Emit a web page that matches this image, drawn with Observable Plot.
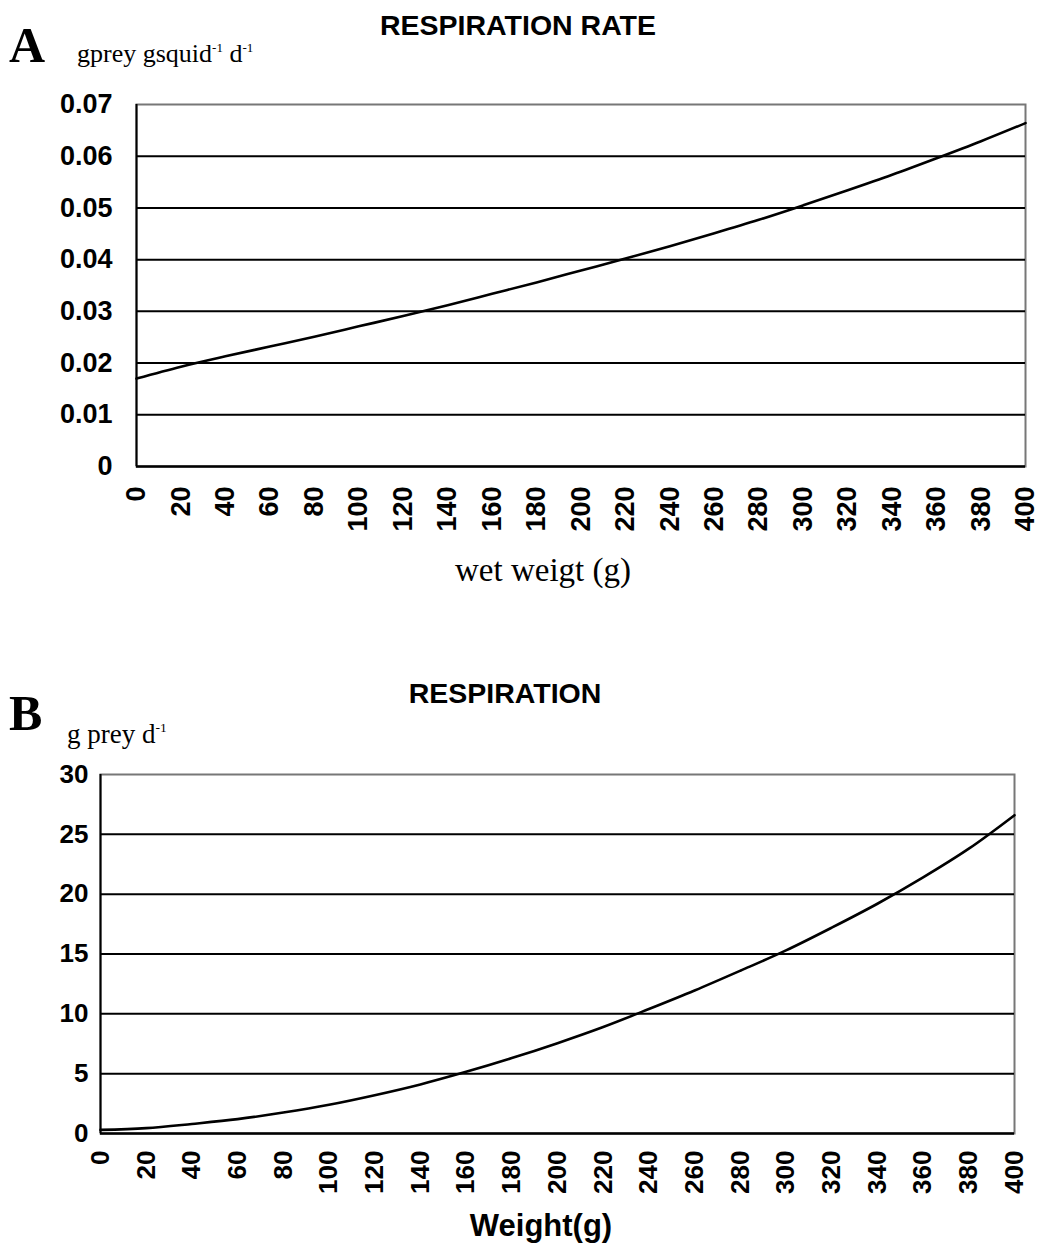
<!DOCTYPE html>
<html>
<head>
<meta charset="utf-8">
<script src="https://cdn.jsdelivr.net/npm/d3@7"></script>
<script src="https://cdn.jsdelivr.net/npm/@observablehq/plot@0.6"></script>
<style>
  html, body { margin: 0; padding: 0; background: #fff; }
  #page { position: relative; width: 1043px; height: 1251px; overflow: hidden; }
  .t { position: absolute; white-space: nowrap; line-height: 1; color: #000; }
  .sans { font-family: "Liberation Sans", Arial, sans-serif; font-weight: bold; }
  .serif { font-family: "Liberation Serif", "Times New Roman", serif; }
  .c { transform: translateX(-50%); }
  sup { font-size: 50%; vertical-align: 0.8em; line-height: 0; }
  .plot { position: absolute; left: 0; }
</style>
</head>
<body>
<div id="page">
  <div class="t sans c" style="left:518px; top:11px; font-size:28.5px;">RESPIRATION RATE</div>
  <div class="t serif" style="left:9px; top:20px; font-size:50px; font-weight:bold;">A</div>
  <div class="t serif" style="left:77px; top:41px; font-size:26px;">gprey gsquid<sup>-1</sup> d<sup>-1</sup></div>
  <div class="t serif c" style="left:543px; top:554px; font-size:33px;">wet weigt (g)</div>

  <div class="t sans c" style="left:505px; top:679px; font-size:28.5px;">RESPIRATION</div>
  <div class="t serif" style="left:9px; top:688px; font-size:50px; font-weight:bold;">B</div>
  <div class="t serif" style="left:67px; top:721px; font-size:27px;">g prey d<sup>-1</sup></div>
  <div class="t sans c" style="left:541px; top:1210px; font-size:31px;">Weight(g)</div>

  <div id="chartA" class="plot" style="top:80px;"></div>
  <div id="chartB" class="plot" style="top:750px;"></div>
</div>
<script>
// ---- Data ----
const weights = [0,20,40,60,80,100,120,140,160,180,200,220,240,260,280,300,320,340,360,380,400];
const rateA = [0.0170,0.0193,0.0213,0.0232,0.0251,0.0271,0.0291,0.0312,0.0334,0.0356,0.0379,0.0402,0.0426,0.0451,0.0477,0.0505,0.0534,0.0564,0.0596,0.0629,0.0664];
const respB = [0.3,0.45,0.8,1.2,1.75,2.4,3.2,4.1,5.15,6.3,7.55,8.9,10.4,11.95,13.6,15.3,17.2,19.2,21.4,23.8,26.6];
const xTicks = [0,20,40,60,80,100,120,140,160,180,200,220,240,260,280,300,320,340,360,380,400];
const yTicksA = [0,0.01,0.02,0.03,0.04,0.05,0.06,0.07];
const yTickLabelsA = ["0","0.01","0.02","0.03","0.04","0.05","0.06","0.07"];
const yTicksB = [0,5,10,15,20,25,30];
const yTickLabelsB = ["0","5","10","15","20","25","30"];

const dataA = weights.map((w, i) => ({w, v: rateA[i]}));
const dataB = weights.map((w, i) => ({w, v: respB[i]}));

function makeChart({data, yTicks, yLabels, yMax, marginLeft, marginRight, height, marginBottom, yPad, xPad, fontSize}) {
  const labelMap = new Map(yTicks.map((t, i) => [t, yLabels[i]]));
  return Plot.plot({
    width: 1043,
    height,
    marginTop: 24,
    marginBottom,
    marginLeft,
    marginRight,
    style: {fontFamily: "'Liberation Sans', Arial, sans-serif", fontSize: fontSize + "px", fontWeight: "bold", color: "#000", background: "transparent"},
    x: {domain: [0, 400], ticks: xTicks},
    y: {domain: [0, yMax], ticks: yTicks},
    marks: [
      Plot.frame({stroke: "#777", strokeWidth: 2}),
      Plot.ruleY(yTicks.filter(t => t > 0 && t < yMax), {stroke: "#000", strokeWidth: 2}),
      Plot.ruleX([0], {stroke: "#000", strokeWidth: 2}),
      Plot.ruleY([0], {stroke: "#000", strokeWidth: 2.5}),
      Plot.line(data, {x: "w", y: "v", curve: "catmull-rom", stroke: "#000", strokeWidth: 2.6}),
      Plot.axisY({ticks: yTicks, tickSize: 0, tickPadding: yPad, tickFormat: d => labelMap.get(d), label: null, fill: "#000"}),
      Plot.axisX({ticks: xTicks, tickSize: 0, tickPadding: xPad, tickRotate: -90, tickFormat: d => String(d), label: null, fill: "#000"})
    ]
  });
}

document.getElementById("chartA").appendChild(makeChart({
  data: dataA, yTicks: yTicksA, yLabels: yTickLabelsA, yMax: 0.07,
  marginLeft: 136, marginRight: 18, height: 465, marginBottom: 79, yPad: 24, xPad: 20, fontSize: 27
}));
document.getElementById("chartB").appendChild(makeChart({
  data: dataB, yTicks: yTicksB, yLabels: yTickLabelsB, yMax: 30,
  marginLeft: 100, marginRight: 29, height: 453, marginBottom: 70, yPad: 12, xPad: 17, fontSize: 26
}));
</script>
</body>
</html>
